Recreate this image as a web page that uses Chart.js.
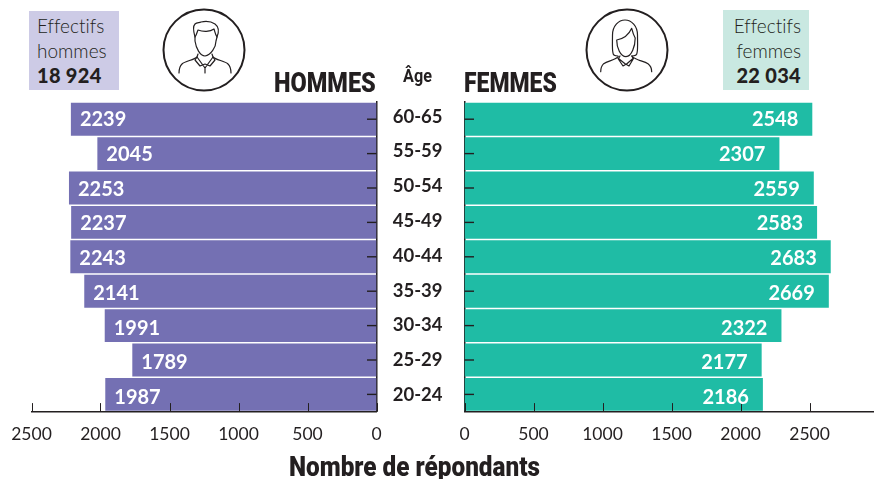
<!DOCTYPE html>
<html><head><meta charset="utf-8">
<script src="https://cdn.jsdelivr.net/npm/chart.js@4"></script>
<style>
html,body{margin:0;padding:0;background:#fff;overflow:hidden}
#page{position:relative;width:874px;height:479px;overflow:hidden;color:#231f20;font-family:Lato,sans-serif}
canvas{position:absolute;top:0}
.box{position:absolute;font-size:19px;line-height:24.5px;font-weight:300;white-space:nowrap;font-variant-ligatures:none}
.box b{font-weight:900;font-size:20px;letter-spacing:.3px}
.head{position:absolute;white-space:nowrap;font-family:Roboto,sans-serif;font-weight:900;line-height:1}
#icons{position:absolute;left:0;top:0}
</style></head><body>
<div id="page">
<canvas id="cl" style="left:0"></canvas>
<canvas id="cr" style="left:378px"></canvas>
<div class="box" style="left:29px;top:11px;width:82px;height:66px;padding:3px 0 10px 8px;background:#cdcbe6">Effectifs<br>hommes<br><b>18 924</b></div>
<div class="box" style="left:723px;top:10px;width:78px;height:66px;padding:4px 8px 10px 0;background:#c9e8e1;text-align:right">Effectifs<br>femmes<br><b>22 034</b></div>
<div class="head" style="left:274px;top:70px;font-size:27px;transform:scaleX(.87);transform-origin:left top">HOMMES</div>
<div class="head" style="left:464px;top:70px;font-size:27px;transform:scaleX(.85);transform-origin:left top">FEMMES</div>
<div class="head" style="left:403px;top:67px;font-size:18px;font-weight:700;transform:scaleX(.9);transform-origin:left top">Âge</div>
<div class="head" style="left:289px;top:454px;font-size:27px;transform:scaleX(.9);transform-origin:left top">Nombre de répondants</div>
<svg id="icons" width="874" height="100" fill="none" stroke="#231f20" stroke-linecap="round" stroke-linejoin="round">
<circle cx="204" cy="50" r="40.5" stroke-width="2"/>
<g stroke-width="1.2">
<path d="M195 37c-2-7-2-11 0-13 2-2 4-1 6-2 5-1 11 0 14 2 4 3 4 8 2 13l-1 4c0 6-5 14-11 15-5 0-9-8-10-15z"/>
<path d="M195 37c2-3 2-5 3-7 5 2 12 2 16-1 1 3 1 5 3 8"/>
<path d="M179 73c0-4 1-7 3-9 3-3 12-4 15-7l1-3M231 73c0-4-1-7-3-9-3-3-12-4-15-7l-1-3"/>
<path d="M197 57l8 11 8-11M205 68v5M197 57l-2 3 5 6 5-2M213 57l2 3-5 6-5-2"/>
</g>
<circle cx="627" cy="50" r="40.5" stroke-width="2"/>
<g stroke-width="1.2">
<path d="M618 56c-3 0-5-1-5-3-1-3-.5-10-.5-18 0-9 6-15 12.500-15s12.500 6 12.500 15c0 8 .5 15-.5 18 0 2-2.500 3-5.500 3"/>
<path d="M616.700 40c6-1 12-5 15-11.700 1 4 2 7 3.500 9.700 0 8-3.500 18.700-9.200 18.700-5.500 0-9.300-9-9.300-16.700z"/>
<path d="M600.700 71.700c0-4 1-6 3-8 4-3 11-3 14.500-7M651.700 71.700c0-4-1-6-3.700-8-4-3-12-3-15.500-7"/>
<path d="M620 56l-1.500 2.500 7.500 6 7-6-1-2.500M626 64.300l-3 1.700-5-7.500M626 64.300l3 1.700 4.500-7.500"/>
</g>
</svg>
</div>
<script>
const ageGroups=["60-65","55-59","50-54","45-49","40-44","35-39","30-34","25-29","20-24"];
const hommes=[2239,2045,2253,2237,2243,2141,1991,1789,1987];
const femmes=[2548,2307,2559,2583,2683,2669,2322,2177,2186];
const xTicksValues=[0,500,1000,1500,2000,2500];
const ageTickIndex=[0,1,2,3,4,5,6,7,8];
const INK="#231f20";
const overlay=(labelOffset)=>({
  id:"overlay",
  afterDatasetsDraw(c){
    const {ctx}=c,x=c.scales.x,xv=c.scales.xBar,y=c.scales.y,a=c.chartArea;
    ctx.save();
    ctx.strokeStyle=INK;ctx.lineWidth=1;
    const dir=x.options.reverse?-1:1;
    xTicksValues.forEach(v=>{const p=Math.round(x.getPixelForValue(v))+.5;
      ctx.beginPath();ctx.moveTo(p,a.bottom);ctx.lineTo(p,a.bottom-8.5);ctx.stroke();});
    ctx.lineWidth=1.4;
    ageGroups.forEach((g,i)=>{const yy=y.getPixelForValue(i);const x0=x.getPixelForValue(0);
      ctx.beginPath();ctx.moveTo(x0,yy);ctx.lineTo(x0+dir*9.5,yy);ctx.stroke();});
    ctx.fillStyle="#fff";ctx.font="700 20px Lato";ctx.textBaseline="middle";
    ctx.textAlign=dir<0?"left":"right";
    c.data.datasets[0].data.forEach((v,i)=>{
      ctx.fillText(String(v),xv.getPixelForValue(v)-dir*labelOffset,y.getPixelForValue(i)+.5+i*.35);});
    ctx.restore();
  }
});
function pyramid(id,w,values,color,reverse,max,barMax,pad,yWidth,offset){
  const el=document.getElementById(id);
  el.width=w;el.height=479;el.style.width=w+"px";el.style.height="479px";
  const showAges=!reverse;
  return new Chart(el,{
    type:"bar",
    data:{labels:ageGroups,datasets:[{data:values,xAxisID:"xBar",yAxisID:"y",backgroundColor:color,borderWidth:0,categoryPercentage:1,barPercentage:.955}]},
    plugins:[overlay(offset)],
    options:{
      indexAxis:"y",responsive:false,animation:false,
      layout:{padding:pad},
      plugins:{legend:{display:false},tooltip:{enabled:false}},
      scales:{
        xBar:{type:"linear",axis:"x",position:"bottom",min:0,max:barMax,reverse:reverse,display:false},
        x:{type:"linear",axis:"x",position:"bottom",min:0,max:max,reverse:reverse,
          afterBuildTicks(s){s.ticks=xTicksValues.map(v=>({value:v}));},
          afterFit(s){s.height=67.4;s.paddingLeft=0;s.paddingRight=0;},
          grid:{display:false,drawTicks:false},
          border:{display:true,color:INK,width:1.5},
          ticks:{callback:v=>String(v),maxRotation:0,autoSkip:false,color:INK,padding:12,font:{family:"Lato",size:17.5}}},
        y:{type:"category",axis:"y",position:reverse?"right":"left",display:reverse,
          afterFit(s){s.width=0;},
          grid:{display:false,drawTicks:false},
          border:{display:true,color:INK,width:1.5},
          ticks:{display:false}},
        yAge:{type:"linear",axis:"y",position:"left",display:showAges,reverse:true,offset:false,bounds:"data",min:-.422,max:8.477,
          afterBuildTicks(s){s.ticks=ageTickIndex.map(v=>({value:v}));},
          afterFit(s){s.width=yWidth;},
          grid:{display:false,drawTicks:false,offset:false},
          border:{display:true,color:INK,width:1.5},
          ticks:{callback:v=>ageGroups[v],autoSkip:false,crossAlign:"center",padding:22,color:INK,font:{family:"Lato",size:18.5,weight:"700"}}}
      }
    }
  });
}
pyramid("cl",400,hommes,"#7470b3",true,2500,2527.5,{left:31.5,right:23.5,top:102,bottom:0},0,9);
pyramid("cr",496,femmes,"#1fbca5",false,2967,3000,{left:0,right:0,top:102,bottom:0},86.5,14);
</script>
</body></html>
